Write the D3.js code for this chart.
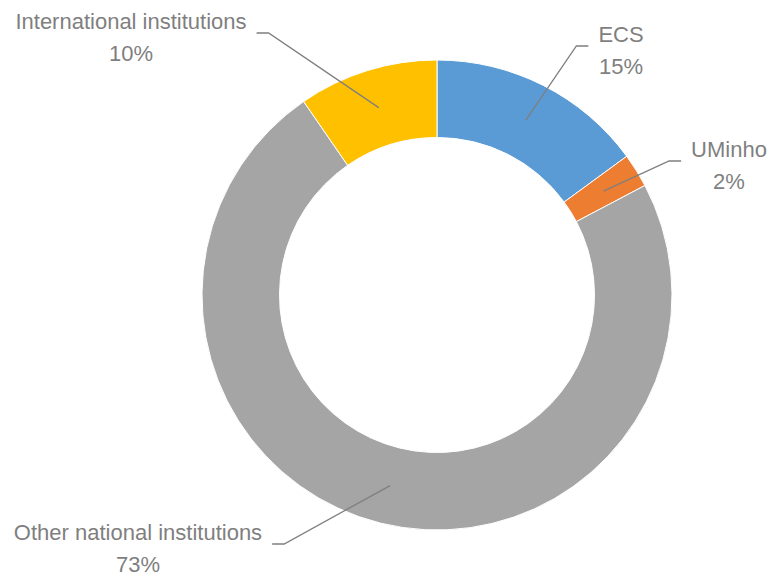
<!DOCTYPE html>
<html>
<head>
<meta charset="utf-8">
<script src="https://cdn.jsdelivr.net/npm/d3@7"></script>
<style>
  body { margin: 0; background: #fff; }
  svg text { font-family: "Liberation Sans", Arial, sans-serif; }
</style>
</head>
<body>
<div id="chart"></div>
<script>
// data (share of total, %)
const categories = ["ECS", "UMinho", "Other national institutions", "International institutions"]
const values = [14.95, 2.33, 73.1, 9.6]
const colors = ["#5B9BD5", "#ED7D31", "#A5A5A5", "#FFC000"]

// label anchors: centre x and first baseline y, plus which side of the leader the text sits
const labelPos = [[621, 42, "right"], [729, 157, "right"], [138, 540, "left"], [131, 29, "left"]]

const width = 767, height = 577
const cx = 437, cy = 295
const outerR = 235, innerR = 157.5

const svg = d3.select("#chart").append("svg")
    .attr("width", width)
    .attr("height", height)

const g = svg.append("g").attr("transform", "translate(" + cx + "," + cy + ")")

const pie = d3.pie().sort(null).value(d => d)
const arcs = pie(values)
const total = d3.sum(values)

const arc = d3.arc().innerRadius(innerR).outerRadius(outerR)

g.selectAll("path.slice")
    .data(arcs)
    .enter().append("path")
    .attr("class", "slice")
    .attr("d", arc)
    .style("fill", (d, i) => colors[i])
    .style("stroke", "#fff")
    .style("stroke-width", 1)

const fmt = d3.format(".0%")

arcs.forEach((d, i) => {
    const [lx, ly, side] = labelPos[i]
    const t = svg.append("text")
        .attr("text-anchor", "middle")
        .style("font-size", "22px")
        .style("fill", "#7f7f7f")
    t.append("tspan").attr("x", lx).attr("y", ly).text(categories[i])
    t.append("tspan").attr("x", lx).attr("y", ly + 32).text(fmt(values[i] / total))

    const box = t.node().getBBox()
    const c = arc.centroid(d)
    const start = [cx + c[0], cy + c[1]]
    const yLine = ly + 4
    let end, elbow
    if (side === "right") {
        end = box.x - 10
        elbow = end - 12
    } else {
        end = box.x + box.width + 10
        elbow = end + 12
    }
    svg.append("polyline")
        .attr("points", [start, [elbow, yLine], [end, yLine]].map(p => p.join(",")).join(" "))
        .style("fill", "none")
        .style("stroke", "#7f7f7f")
        .style("stroke-width", 1.3)
})
</script>
</body>
</html>
